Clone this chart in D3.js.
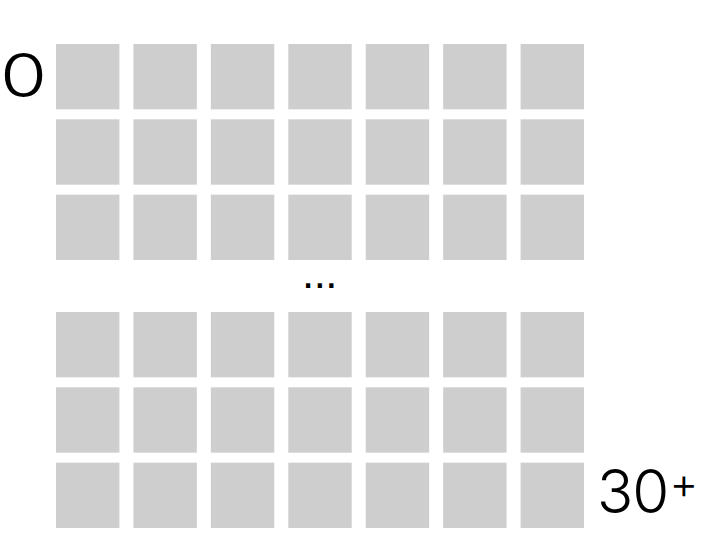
<!DOCTYPE html>
<html>
<head>
<meta charset="utf-8">
<script src="https://cdn.jsdelivr.net/npm/d3@7"></script>
<style>
  body { margin: 0; background: #fff; }
  svg { display: block; }
</style>
</head>
<body>
<div id="chart"></div>
<script>
// grid of cells, 7 across, 6 rows shown (rows 3..n-3 elided with "...")
var columns = ["1", "2", "3", "4", "5", "6", "7"];
var rows = ["r1", "r2", "r3", "r4", "r5", "r6"];
var elideAfter = 3;          // "..." sits between row 3 and row 4
var startLabel = "0";
var endLabel = ["30", "+"];  // main text + raised plus

var width = 720, height = 560;

var svg = d3.select("#chart").append("svg")
    .attr("width", width)
    .attr("height", height);

var extraGap = 42; // room for the ellipsis

var x = d3.scaleBand().domain(columns).range([56, 584]).paddingInner(0.181);
var y = d3.scaleBand().domain(rows).range([44, 528 - extraGap]).paddingInner(0.1327);

function rowY(r) {
    return y(r) + (rows.indexOf(r) >= elideAfter ? extraGap : 0);
}

var cells = [];
rows.forEach(function (r) {
    columns.forEach(function (c) {
        cells.push({row: r, col: c});
    });
});

svg.append("g")
    .selectAll("rect")
    .data(cells)
    .enter().append("rect")
    .attr("x", function (d) { return x(d.col); })
    .attr("y", function (d) { return rowY(d.row); })
    .attr("width", x.bandwidth())
    .attr("height", y.bandwidth())
    .attr("fill", "#cecece");

// ellipsis between the elided rows
var gapTop = rowY(rows[elideAfter - 1]) + y.bandwidth();
var gapBottom = rowY(rows[elideAfter]);
svg.append("text")
    .attr("x", x(columns[3]) + x.bandwidth() / 2 + 1)
    .attr("y", (gapTop + gapBottom) / 2 + 2)
    .attr("text-anchor", "middle")
    .style("font-family", "DejaVu Sans, sans-serif")
    .style("font-weight", "bold")
    .style("font-size", "24px")
    .style("letter-spacing", "2.5px")
    .attr("fill", "#000")
    .text("...");

var labelFont = "Inter, 'Noto Sans', sans-serif";

// start label, left of first cell (wide oval zero)
var sx = x(columns[0]) - 9, sy = rowY(rows[0]) + 53;
svg.append("text")
    .attr("transform", "translate(" + sx + "," + sy + ") scale(1.25,1)")
    .attr("text-anchor", "end")
    .style("font-family", labelFont)
    .style("font-weight", 300)
    .style("font-size", "61px")
    .attr("fill", "#000")
    .text(startLabel);

// end label, right of last cell
var end = svg.append("text")
    .attr("x", x(columns[columns.length - 1]) + x.bandwidth() + 13)
    .attr("y", rowY(rows[rows.length - 1]) + 50)
    .style("font-family", labelFont)
    .style("font-weight", 300)
    .style("font-size", "60px")
    .style("letter-spacing", "-1px")
    .attr("fill", "#000");
end.append("tspan").text(endLabel[0]);
end.append("tspan")
    .attr("dy", -14)
    .attr("dx", 1)
    .style("font-size", "44px")
    .text(endLabel[1]);
</script>
</body>
</html>
